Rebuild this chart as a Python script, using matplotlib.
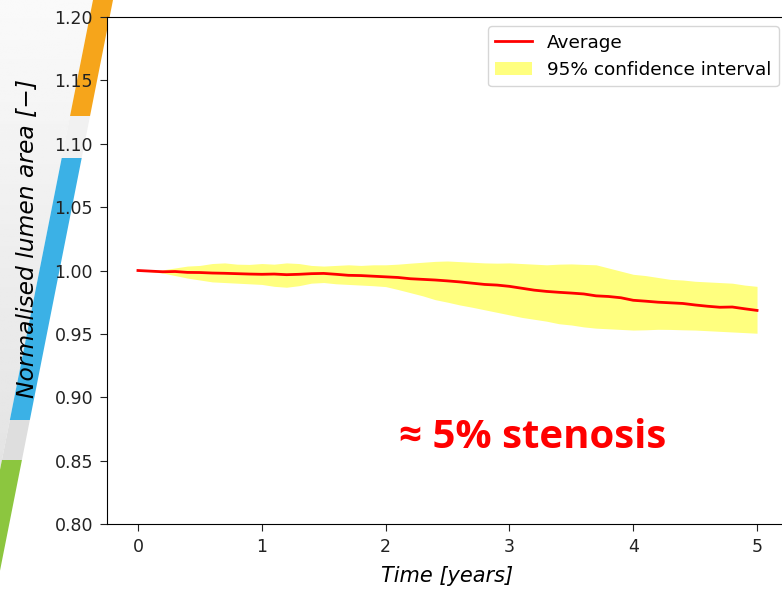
import numpy as np
import matplotlib.pyplot as plt
from matplotlib.patches import Polygon

# time axis in years, read every 0.1 year
t = [round(0.1 * i, 1) for i in range(51)]

# average normalised lumen area
avg = [1.0000, 0.9995, 0.9990, 0.9992, 0.9985, 0.9984, 0.9980, 0.9978, 0.9975, 0.9972,
       0.9970, 0.9972, 0.9967, 0.9970, 0.9975, 0.9977, 0.9970, 0.9962, 0.9960, 0.9955,
       0.9950, 0.9945, 0.9935, 0.9930, 0.9925, 0.9918, 0.9910, 0.9900, 0.9890, 0.9885,
       0.9875, 0.9860, 0.9845, 0.9835, 0.9828, 0.9822, 0.9815, 0.9800, 0.9795, 0.9785,
       0.9765, 0.9758, 0.9750, 0.9745, 0.9740, 0.9728, 0.9718, 0.9710, 0.9712, 0.9698,
       0.9685]

# 95% confidence interval bounds
upper = [1.0000, 1.0000, 1.0005, 1.0020, 1.0035, 1.0040, 1.0055, 1.0060, 1.0050, 1.0048,
         1.0055, 1.0050, 1.0060, 1.0055, 1.0040, 1.0035, 1.0040, 1.0045, 1.0040, 1.0045,
         1.0045, 1.0050, 1.0058, 1.0065, 1.0072, 1.0075, 1.0070, 1.0065, 1.0060, 1.0058,
         1.0060, 1.0055, 1.0050, 1.0045, 1.0050, 1.0052, 1.0048, 1.0045, 1.0020, 0.9995,
         0.9970, 0.9960, 0.9945, 0.9930, 0.9925, 0.9915, 0.9910, 0.9905, 0.9900, 0.9885,
         0.9875]
lower = [1.0000, 0.9990, 0.9980, 0.9960, 0.9940, 0.9925, 0.9910, 0.9905, 0.9900, 0.9895,
         0.9890, 0.9875, 0.9868, 0.9880, 0.9900, 0.9905, 0.9895, 0.9890, 0.9885, 0.9880,
         0.9873, 0.9850, 0.9825, 0.9800, 0.9770, 0.9750, 0.9728, 0.9710, 0.9690, 0.9670,
         0.9650, 0.9630, 0.9615, 0.9600, 0.9580, 0.9570, 0.9555, 0.9545, 0.9540, 0.9535,
         0.9530, 0.9532, 0.9536, 0.9535, 0.9532, 0.9530, 0.9525, 0.9520, 0.9515, 0.9510,
         0.9505]

W, H = 782, 595
fig = plt.figure(figsize=(W / 100, H / 100), dpi=100)

# slide decoration on the left (pixel coords)
bg = fig.add_axes([0, 0, 1, 1], zorder=-10)
bg.set_xlim(0, W)
bg.set_ylim(H, 0)
bg.axis('off')

def cx(y):
    return 103 - 0.198 * y

grad = np.linspace(0.98, 0.89, 200).reshape(-1, 1)
im = bg.imshow(grad, cmap='gray', vmin=0, vmax=1, extent=[0, 120, 480, 0], aspect='auto')
clip = Polygon([(0, 0), (cx(0) - 10, 0), (cx(H) - 10, H), (0, H)], closed=True,
               transform=bg.transData, facecolor='none', edgecolor='none')
bg.add_patch(clip)
im.set_clip_path(clip)

stripes = [(0, 116, '#f6a51b'), (116, 158, '#f1f1f1'), (158, 420, '#3bb1e6'),
           (420, 460, '#dedede'), (460, 595, '#8cc63f')]
for y0, y1, c in stripes:
    bg.add_patch(Polygon([(cx(y0) - 10, y0), (cx(y0) + 10, y0),
                          (cx(y1) + 10, y1), (cx(y1) - 10, y1)],
                         closed=True, facecolor=c, edgecolor='none'))

# main chart, cropped on the right like the slide
ax = fig.add_axes([107 / W, 71 / H, 681 / W, 507 / H])
ax.fill_between(t, lower, upper, color='yellow', alpha=0.5, linewidth=0,
                label='95% confidence interval')
ax.plot(t, avg, color='red', linewidth=2.0, label='Average')

ax.set_xlim(-0.25, 5.25)
ax.set_ylim(0.80, 1.20)
ax.set_xticks(range(6))
ax.set_yticks(np.arange(0.80, 1.201, 0.05))
ax.tick_params(labelsize=12.5, length=5, pad=5, colors='#222222')

ax.set_xlabel('Time [years]', fontsize=15, style='italic')
ax.set_ylabel('Normalised lumen area [\u2212]', fontsize=16.8, style='italic')
ax.yaxis.set_label_coords(-0.100, 0.564)
ax.xaxis.set_label_coords(0.5, -0.082)

h, l = ax.get_legend_handles_labels()
ax.legend(h[::-1], l[::-1], loc='upper right', fontsize=13.3)

ax.text(3.19, 0.868, '\u2248 5% stenosis', color='red', fontsize=29,
        fontweight='bold', family=['Open Sans', 'DejaVu Sans'],
        ha='center', va='center')

fig.savefig('out.png', dpi=100)
